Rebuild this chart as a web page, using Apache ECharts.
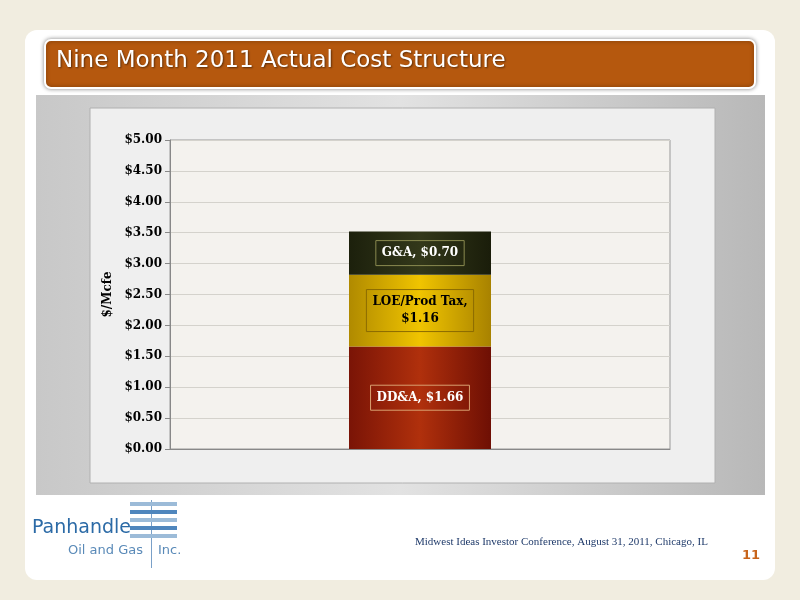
<!DOCTYPE html>
<html><head><meta charset="utf-8">
<script src="https://cdn.jsdelivr.net/npm/echarts@6/dist/echarts.min.js"></script>
<style>html,body{margin:0;padding:0;}#c{width:800px;height:600px;}</style>
</head><body><div id="c"></div>
<script>
var categories = ['Nine Month 2011'];
var ddaValues = [1.66];
var loeValues = [1.16];
var gaValues = [0.70];
var seriesNames = ['DD&A', 'LOE/Prod Tax', 'G&A'];

var chart = echarts.init(document.getElementById('c'));
function lbl(color, border, fmt) {
  return {show: true, position: 'inside', color: color, fontFamily: 'DejaVu Serif', fontWeight: 'bold', fontSize: 12,
    borderColor: border, borderWidth: 1, padding: [4, 6], formatter: fmt, lineHeight: 17};
}
chart.setOption({
  backgroundColor: '#f1ede0',
  graphic: [
    {type: 'rect', shape: {x: 25, y: 30, width: 750, height: 550, r: 12}, style: {fill: '#ffffff'}, z: -10},
    {type: 'rect', shape: {x: 36, y: 95, width: 729, height: 400}, style: {fill: {type: 'linear', x: 0, y: 0, x2: 1, y2: 0, colorStops: [{offset: 0, color: '#c8c8c8'}, {offset: 0.5, color: '#e2e2e2'}, {offset: 1, color: '#b8b8b8'}]}}, z: -9},
    {type: 'rect', shape: {x: 90, y: 108, width: 625, height: 375}, style: {fill: '#efefef', stroke: '#b0b0b0'}, z: -8},
    {type: 'rect', shape: {x: 170, y: 140, width: 500, height: 309}, style: {fill: '#f4f2ee', stroke: '#999'}, z: -7},
    {type: 'rect', shape: {x: 45, y: 40, width: 710, height: 48, r: 6}, style: {fill: '#b5580e', stroke: '#ffffff', lineWidth: 2, shadowBlur: 4, shadowColor: 'rgba(0,0,0,0.4)'}, z: 5},
    {type: 'text', left: 56, top: 50, style: {text: 'Nine Month 2011 Actual Cost Structure', fill: '#ffffff', fontSize: 23, fontFamily: 'DejaVu Sans', textShadowColor: 'rgba(0,0,0,0.5)', textShadowBlur: 2, textShadowOffsetX: 1, textShadowOffsetY: 1}, z: 6},
    {type: 'text', left: 32, top: 519, style: {text: 'Panhandle', fill: '#2b6aa6', fontSize: 19, fontFamily: 'DejaVu Sans'}},
    {type: 'text', left: 68, top: 544, style: {text: 'Oil and Gas', fill: '#5a8ab8', fontSize: 13, fontFamily: 'DejaVu Sans'}},
    {type: 'text', left: 158, top: 544, style: {text: 'Inc.', fill: '#5a8ab8', fontSize: 13, fontFamily: 'DejaVu Sans'}},
    {type: 'rect', shape: {x: 151, y: 500, width: 1, height: 68}, style: {fill: '#7aa0c8'}},
    {type: 'rect', shape: {x: 130, y: 502, width: 47, height: 4}, style: {fill: '#9cbbd8'}},
    {type: 'rect', shape: {x: 130, y: 510, width: 47, height: 4}, style: {fill: '#4f86bd'}},
    {type: 'rect', shape: {x: 130, y: 518, width: 47, height: 4}, style: {fill: '#9cbbd8'}},
    {type: 'rect', shape: {x: 130, y: 526, width: 47, height: 4}, style: {fill: '#4f86bd'}},
    {type: 'rect', shape: {x: 130, y: 534, width: 47, height: 4}, style: {fill: '#9cbbd8'}},
    {type: 'text', left: 415, top: 537, style: {text: 'Midwest Ideas Investor Conference, August 31, 2011, Chicago, IL', fill: '#1f3a6a', fontSize: 11, fontFamily: 'Liberation Serif'}},
    {type: 'text', left: 742, top: 549, style: {text: '11', fill: '#c8641a', fontSize: 13, fontWeight: 'bold', fontFamily: 'DejaVu Sans'}}
  ],
  grid: {left: 170, top: 140, width: 500, height: 309},
  xAxis: {type: 'category', data: categories, axisLabel: {show: false}, axisTick: {show: false},
    axisLine: {lineStyle: {color: '#888'}}},
  yAxis: {type: 'value', min: 0, max: 5, interval: 0.5, name: '$/Mcfe', nameLocation: 'middle', nameGap: 46,
    nameTextStyle: {fontFamily: 'DejaVu Serif', fontWeight: 'bold', fontSize: 12, color: '#000'},
    axisLine: {show: true, lineStyle: {color: '#888'}}, axisTick: {show: true, lineStyle: {color: '#888'}},
    axisLabel: {formatter: function(v){return '$' + v.toFixed(2);}, fontFamily: 'DejaVu Serif', fontWeight: 'bold', fontSize: 12, color: '#000'},
    splitLine: {lineStyle: {color: '#d4d2cc'}}},
  series: [
    {name: seriesNames[0], type: 'bar', stack: 't', barWidth: '28.4%', data: ddaValues,
      itemStyle: {color: {type: 'linear', x: 0, y: 0, x2: 1, y2: 0, colorStops: [{offset: 0, color: '#7a1406'}, {offset: 0.5, color: '#b0300c'}, {offset: 1, color: '#6e0f04'}]}},
      label: lbl('#ffffff', '#d9a070', function(p){return 'DD&A, $' + p.value.toFixed(2);})},
    {name: seriesNames[1], type: 'bar', stack: 't', data: loeValues,
      itemStyle: {color: {type: 'linear', x: 0, y: 0, x2: 1, y2: 0, colorStops: [{offset: 0, color: '#b08a00'}, {offset: 0.5, color: '#f0c400'}, {offset: 1, color: '#a88200'}]}},
      label: lbl('#000000', '#8a6a00', function(p){return 'LOE/Prod Tax,\n$' + p.value.toFixed(2);})},
    {name: seriesNames[2], type: 'bar', stack: 't', data: gaValues,
      itemStyle: {color: {type: 'linear', x: 0, y: 0, x2: 1, y2: 0, colorStops: [{offset: 0, color: '#1c200c'}, {offset: 0.5, color: '#33381a'}, {offset: 1, color: '#1a1d0a'}]}},
      label: lbl('#ffffff', '#8a8a50', function(p){return 'G&A, $' + p.value.toFixed(2);})}
  ]
});
</script></body></html>
